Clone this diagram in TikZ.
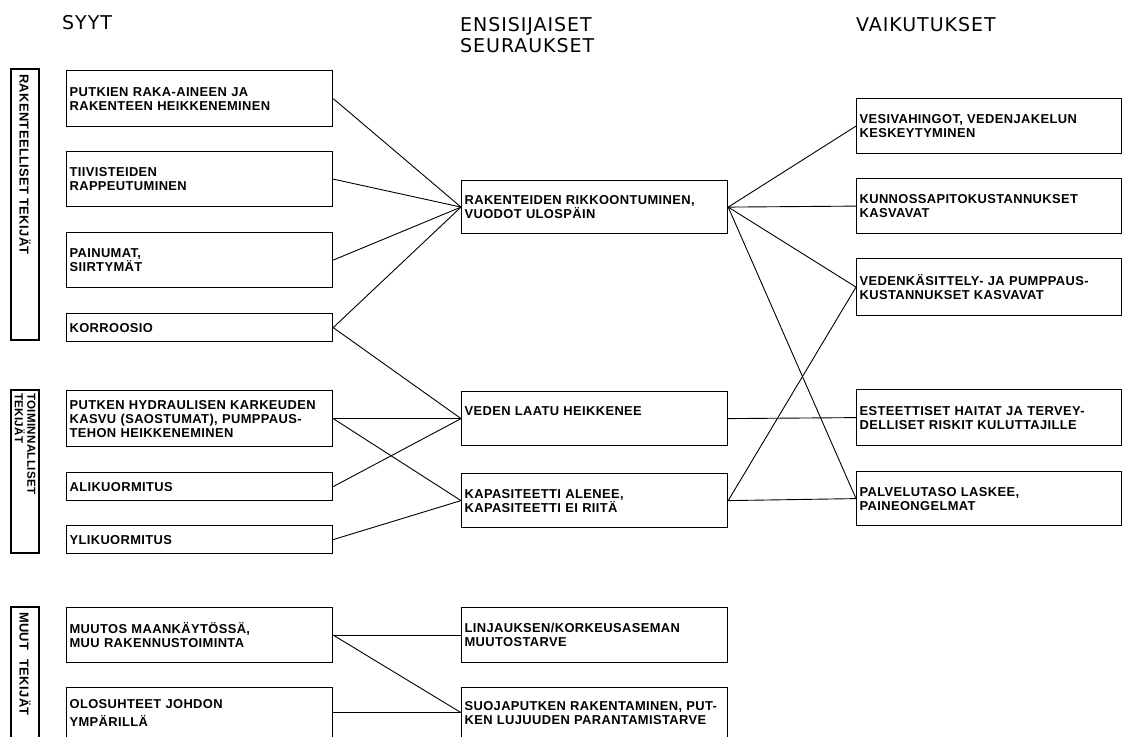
\documentclass[tikz,border=0pt]{standalone}
\usepackage{fontspec}
\setmainfont{DejaVu Sans}
\newfontfamily\boxfont[LetterSpace=3]{Liberation Sans}
\newfontfamily\headfont[LetterSpace=5]{DejaVu Sans}

\tikzset{
  cell/.style={draw, line width=1.2pt, anchor=north west, inner xsep=3pt, inner ysep=0pt,
    align=left, font=\boxfont\bfseries\fontsize{12.9}{14}\selectfont},
  colA/.style={cell, text width=260pt},
  colB/.style={cell, text width=260pt},
  colC/.style={cell, text width=259pt},
  group/.style={draw, line width=1.2pt, rotate=-90, inner xsep=5pt, inner ysep=0pt,
    minimum height=28pt, align=left, font=\boxfont\bfseries\fontsize{12.9}{14}\selectfont},
  head/.style={anchor=north west, inner sep=0pt, align=left,
    font=\headfont\fontsize{19}{21}\selectfont},
  link/.style={line width=0.9pt}
}

\begin{document}
\begin{tikzpicture}[x=1pt, y=-1pt]
\path[use as bounding box, clip] (0,0) rectangle (1123,736);

% column headings
\node[head] (hcause) at (62,15) {SYYT};
\node[head] (hprim) at (460,17) {ENSISIJAISET\\SEURAUKSET};
\node[head] (heff) at (856,17) {VAIKUTUKSET};

% factor groups
\node[group, text width=261pt] (g1) at (25,204.5) {RAKENTEELLISET TEKIJÄT};
\node[group, text width=157pt, inner xsep=3pt,
      font=\boxfont\bfseries\fontsize{11.6}{12.5}\selectfont] (g2) at (25,471.5) {TOIMINNALLISET\\TEKIJÄT};
\node[group, text width=121pt] (g3) at (25,672.5) {MUUT\hspace{5pt} TEKIJÄT};

% causes
\node[colA, minimum height=56pt] (c1) at (66,70) {PUTKIEN RAKA-AINEEN JA\\RAKENTEEN HEIKKENEMINEN};
\node[colA, minimum height=55pt] (c2) at (66,151) {TIIVISTEIDEN\\RAPPEUTUMINEN};
\node[colA, minimum height=55pt] (c3) at (66,232) {PAINUMAT,\\SIIRTYMÄT};
\node[colA, minimum height=28pt] (c4) at (66,313) {KORROOSIO};
\node[colA, minimum height=56pt] (c5) at (66,390) {PUTKEN HYDRAULISEN KARKEUDEN\\KASVU (SAOSTUMAT), PUMPPAUS-\\TEHON HEIKKENEMINEN};
\node[colA, minimum height=28pt] (c6) at (66,472) {ALIKUORMITUS};
\node[colA, minimum height=28pt] (c7) at (66,525) {YLIKUORMITUS};
\node[colA, minimum height=55pt] (c8) at (66,607) {MUUTOS MAANKÄYTÖSSÄ,\\MUU RAKENNUSTOIMINTA};
\node[colA, minimum height=50pt] (c9) at (66,687) {OLOSUHTEET JOHDON\\[4pt]YMPÄRILLÄ};

% primary consequences
\node[colB, minimum height=53pt] (m1) at (461,180) {RAKENTEIDEN RIKKOONTUMINEN,\\VUODOT ULOSPÄIN};
\node[colB, minimum height=54pt] (m2) at (461,391) {\raisebox{7pt}[\height][\depth]{VEDEN LAATU HEIKKENEE}};
\node[colB, minimum height=54pt] (m3) at (461,473) {KAPASITEETTI ALENEE,\\KAPASITEETTI EI RIITÄ};
\node[colB, minimum height=55pt] (m4) at (461,607) {LINJAUKSEN/KORKEUSASEMAN\\MUUTOSTARVE};
\node[colB, minimum height=50pt] (m5) at (461,687) {SUOJAPUTKEN RAKENTAMINEN, PUT-\\KEN LUJUUDEN PARANTAMISTARVE};

% effects
\node[colC, minimum height=55pt] (r1) at (856,98) {VESIVAHINGOT, VEDENJAKELUN\\KESKEYTYMINEN};
\node[colC, minimum height=55pt] (r2) at (856,178) {KUNNOSSAPITOKUSTANNUKSET\\KASVAVAT};
\node[colC, minimum height=57pt] (r3) at (856,258) {VEDENKÄSITTELY- JA PUMPPAUS-\\KUSTANNUKSET KASVAVAT};
\node[colC, minimum height=56pt] (r4) at (856,389) {ESTEETTISET HAITAT JA TERVEY-\\DELLISET RISKIT KULUTTAJILLE};
\node[colC, minimum height=54pt] (r5) at (856,471) {PALVELUTASO LASKEE,\\PAINEONGELMAT};

% causes -> primary consequences
\draw[link] (c1.east) -- (m1.west);
\draw[link] (c2.east) -- (m1.west);
\draw[link] (c3.east) -- (m1.west);
\draw[link] (c4.east) -- (m1.west);
\draw[link] (c4.east) -- (m2.west);
\draw[link] (c5.east) -- (m2.west);
\draw[link] (c5.east) -- (m3.west);
\draw[link] (c6.east) -- (m2.west);
\draw[link] (c7.east) -- (m3.west);
\draw[link] (c8.east) -- (m4.west);
\draw[link] (c8.east) -- (m5.west);
\draw[link] (c9.east) -- (m5.west);

% primary consequences -> effects
\draw[link] (m1.east) -- (r1.west);
\draw[link] (m1.east) -- (r2.west);
\draw[link] (m1.east) -- (r3.west);
\draw[link] (m1.east) -- (r5.west);
\draw[link] (m2.east) -- (r4.west);
\draw[link] (m3.east) -- (r3.west);
\draw[link] (m3.east) -- (r5.west);
\end{tikzpicture}
\end{document}
